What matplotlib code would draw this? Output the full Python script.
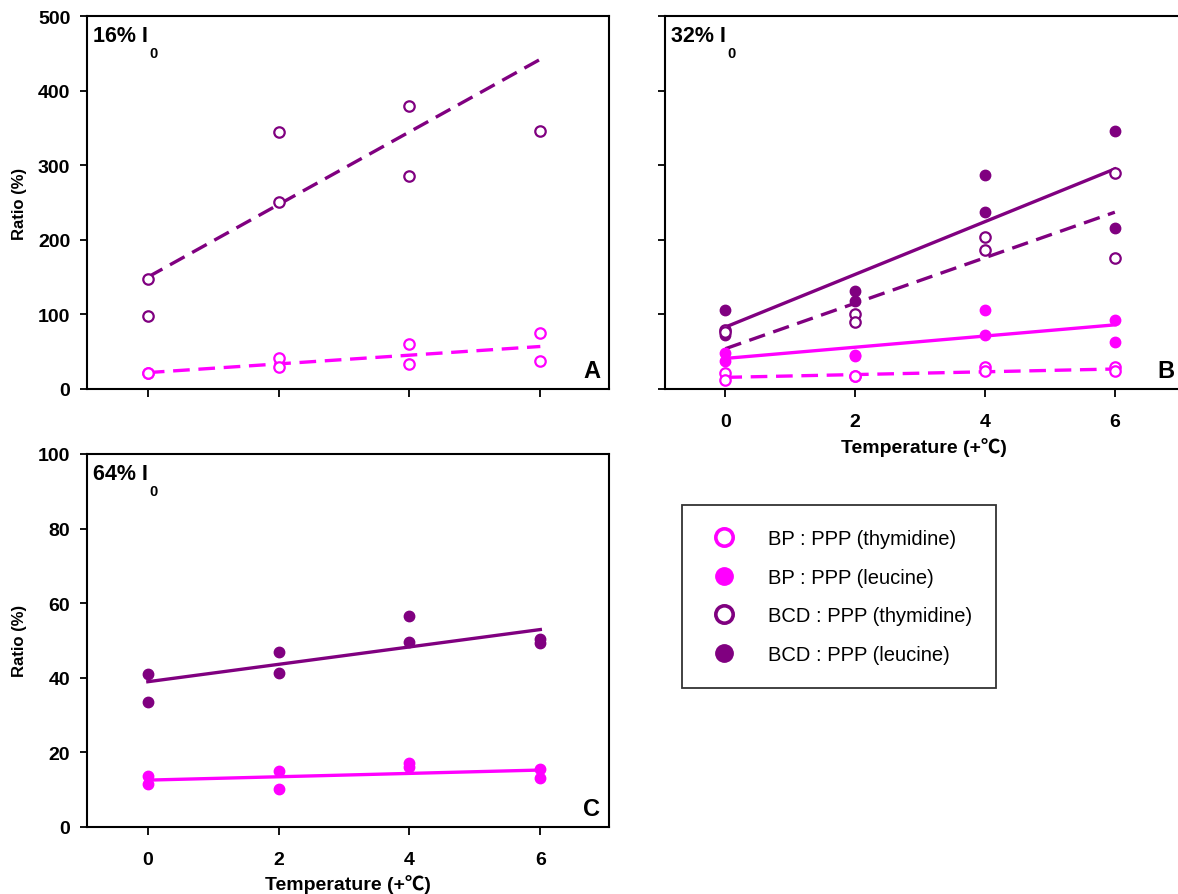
import matplotlib
matplotlib.use("Agg")
import matplotlib.pyplot as plt
from matplotlib.lines import Line2D

plt.rcParams['font.family'] = ['Liberation Sans', 'Noto Sans CJK SC', 'DejaVu Sans']

MAG = '#FF00FF'
PUR = '#800080'

temps = [0, 2, 4, 6]

# Panel A (16% I0)
a_bp_thy_x = [0, 0, 2, 2, 4, 4, 6, 6]
a_bp_thy_y = [22, 21, 41, 29, 60, 33, 75, 37]
a_bcd_thy_x = [0, 0, 2, 2, 4, 4, 6]
a_bcd_thy_y = [148, 98, 344, 251, 380, 286, 346]
a_bp_thy_fit = [22, 57]
a_bcd_thy_fit = [150, 442]

# Panel B (32% I0)
b_bp_thy_x = [0, 0, 2, 2, 4, 4, 6, 6]
b_bp_thy_y = [21, 12.5, 18, 17, 29, 24.5, 30, 23.7]
b_bp_leu_x = [0, 0, 2, 2, 4, 4, 6, 6]
b_bp_leu_y = [48, 37, 46, 44, 106, 73, 93, 63]
b_bcd_thy_x = [0, 0, 2, 2, 4, 4, 6, 6]
b_bcd_thy_y = [79, 76, 100, 90, 204, 186, 290, 176]
b_bcd_leu_x = [0, 0, 2, 2, 4, 4, 6, 6]
b_bcd_leu_y = [106, 72, 131, 118, 287, 237, 346, 216]
b_bp_thy_fit = [15.6, 26.8]
b_bp_leu_fit = [41, 86]
b_bcd_thy_fit = [54, 237]
b_bcd_leu_fit = [83, 295]

# Panel C (64% I0)
c_bp_leu_x = [0, 0, 2, 2, 4, 4, 6, 6]
c_bp_leu_y = [13.7, 11.5, 15, 10.2, 17.1, 15.9, 15.5, 13.2]
c_bcd_leu_x = [0, 0, 2, 2, 4, 4, 6, 6]
c_bcd_leu_y = [40.9, 33.5, 47, 41.3, 56.5, 49.5, 50.4, 49.3]
c_bp_leu_fit = [12.5, 15.2]
c_bcd_leu_fit = [38.9, 52.9]

fit_x = [0, 6]

legend_labels = ['BP : PPP (thymidine)', 'BP : PPP (leucine)',
                 'BCD : PPP (thymidine)', 'BCD : PPP (leucine)']

W, H = 1178, 895
fig = plt.figure(figsize=(W / 100, H / 100), dpi=100)


def ax_px(l, t, r, b):
    return fig.add_axes([l / W, (H - b) / H, (r - l) / W, (b - t) / H])


axA = ax_px(87, 17, 609, 390)
axB = ax_px(665, 17, 1183, 390)
axC = ax_px(87, 455, 609, 827.7)

DASH = (0, (5, 2.6))
MS = 7.5


def open_pts(ax, x, y, c):
    ax.plot(x, y, 'o', ls='none', ms=MS, mfc='white', mec=c, mew=1.6, zorder=3)


def fill_pts(ax, x, y, c):
    ax.plot(x, y, 'o', ls='none', ms=MS, mfc=c, mec=c, mew=1.0, zorder=3)


def fit_line(ax, yv, c, dashed):
    ax.plot(fit_x, yv, color=c, lw=2.4, ls=DASH if dashed else '-', zorder=2)


# Panel A
fit_line(axA, a_bcd_thy_fit, PUR, True)
fit_line(axA, a_bp_thy_fit, MAG, True)
open_pts(axA, a_bcd_thy_x, a_bcd_thy_y, PUR)
open_pts(axA, a_bp_thy_x, a_bp_thy_y, MAG)

# Panel B
fit_line(axB, b_bcd_leu_fit, PUR, False)
fit_line(axB, b_bcd_thy_fit, PUR, True)
fit_line(axB, b_bp_leu_fit, MAG, False)
fit_line(axB, b_bp_thy_fit, MAG, True)
fill_pts(axB, b_bcd_leu_x, b_bcd_leu_y, PUR)
open_pts(axB, b_bcd_thy_x, b_bcd_thy_y, PUR)
fill_pts(axB, b_bp_leu_x, b_bp_leu_y, MAG)
open_pts(axB, b_bp_thy_x, b_bp_thy_y, MAG)

# Panel C
fit_line(axC, c_bcd_leu_fit, PUR, False)
fit_line(axC, c_bp_leu_fit, MAG, False)
fill_pts(axC, c_bcd_leu_x, c_bcd_leu_y, PUR)
fill_pts(axC, c_bp_leu_x, c_bp_leu_y, MAG)

xlim = (-0.93, 7.05)
for ax in (axA, axB, axC):
    ax.set_xlim(*xlim)
    ax.set_xticks(temps)
    for s in ax.spines.values():
        s.set_linewidth(1.5)
        s.set_color('black')
    ax.tick_params(direction='out', length=6, width=1.3, labelsize=14)
    ax.tick_params(axis='x', pad=11.5)
    ax.tick_params(axis='y', length=5, pad=7)

axA.set_ylim(0, 500)
axA.set_yticks([0, 100, 200, 300, 400, 500])
axA.set_xticklabels([])
axB.set_ylim(0, 500)
axB.set_yticks([0, 100, 200, 300, 400, 500])
axB.set_yticklabels([])
axC.set_ylim(0, 100)
axC.set_yticks([0, 20, 40, 60, 80, 100])

for ax in (axA, axB, axC):
    for lab in ax.get_xticklabels() + ax.get_yticklabels():
        lab.set_fontweight('bold')

axA.set_ylabel('Ratio (%)', fontsize=12, fontweight='bold', labelpad=8)
axC.set_ylabel('Ratio (%)', fontsize=12, fontweight='bold', labelpad=8)
axB.set_xlabel('Temperature (+\u2103)', fontsize=14, fontweight='bold', labelpad=5)
axC.set_xlabel('Temperature (+\u2103)', fontsize=14, fontweight='bold', labelpad=4)


def panel_title(ax, pct, letter):
    t = ax.text(0.012, 0.975, pct + ' I', transform=ax.transAxes, fontsize=15.5,
                fontweight='bold', ha='left', va='top')
    fig.canvas.draw()
    bb = t.get_window_extent().transformed(ax.transAxes.inverted())
    ax.text(bb.x1 + 0.003, bb.y0 + 0.002, '0', transform=ax.transAxes, fontsize=10.5,
            fontweight='bold', ha='left', va='top')
    ax.text(0.983, 0.018, letter, transform=ax.transAxes, fontsize=17,
            fontweight='bold', ha='right', va='bottom')


panel_title(axA, '16%', 'A')
panel_title(axB, '32%', 'B')
panel_title(axC, '64%', 'C')

handles = [
    Line2D([], [], ls='none', marker='o', ms=12.5, mfc='white', mec=MAG, mew=2.6),
    Line2D([], [], ls='none', marker='o', ms=12.5, mfc=MAG, mec=MAG),
    Line2D([], [], ls='none', marker='o', ms=12.5, mfc='white', mec=PUR, mew=2.6),
    Line2D([], [], ls='none', marker='o', ms=12.5, mfc=PUR, mec=PUR),
]
leg = fig.legend(handles, legend_labels, loc='upper left',
                 bbox_to_anchor=(682 / W, (H - 506) / H), frameon=True,
                 fancybox=False, edgecolor='black', fontsize=14.5,
                 borderpad=1.2, labelspacing=0.97, handletextpad=1.27,
                 borderaxespad=0, handlelength=1.8)
leg.get_frame().set_linewidth(1.3)

fig.savefig('out.png', dpi=100)
